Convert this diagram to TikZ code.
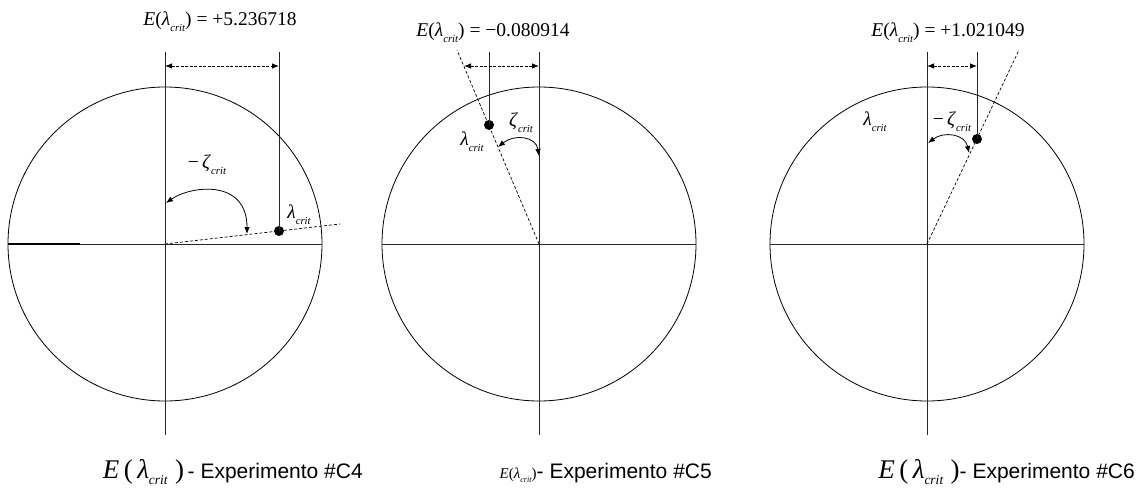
\documentclass[tikz,border=0pt]{standalone}
\usepackage{fontspec}
\usepackage{graphicx}
\setmainfont{Liberation Serif}
\newfontfamily\capfont{Liberation Sans}
\usetikzlibrary{arrows.meta}
\newcommand{\crit}{\raisebox{-0.32em}{\scalebox{0.55}{\itshape crit}}}
\newcommand{\Elam}{\textit{E}(\textit{λ}\crit)}
\newcommand{\Ewide}{\textit{E}\,(\,\textit{λ}\raisebox{-0.25em}{\scalebox{0.5}{\itshape crit}}\;)}
\tikzset{
  >={Latex[length=7pt,width=5.5pt]},
  rim/.style={draw=black,line width=0.8pt},
  axis/.style={draw=black!85,line width=0.7pt},
  ray/.style={draw=black,line width=0.7pt,dash pattern=on 3pt off 2pt},
  dimline/.style={<->,draw=black,line width=0.8pt,dash pattern=on 3pt off 1.5pt},
  swing/.style={<->,draw=black,line width=0.8pt},
  dotmark/.style={circle,fill=black,inner sep=0pt,minimum size=10pt},
  lab/.style={inner sep=0pt,font=\fontsize{19.5}{22}\selectfont},
  legend/.style={inner sep=0pt,anchor=base east,font=\capfont\fontsize{21}{24}\selectfont},
}
\begin{document}
\begin{tikzpicture}[x=1pt,y=-1pt]
  \useasboundingbox (0,0) rectangle (1147,489);
  % circles and axes
  \foreach \cx/\n in {165/1,539/2,927/3}{
    \coordinate (o\n) at (\cx,244);
    \draw[rim] (o\n) circle[radius=157];
    \draw[axis] (\cx-157,244) -- (\cx+157,244);
    \draw[axis] (\cx,52) -- (\cx,435);
  }
  \draw[line width=2pt] (8,244) -- (80,244);
  % experiment C4
  \node[dotmark] (p1) at (279,231) {};
  \coordinate (e1) at (340,224);
  \draw[ray] (o1) -- (e1);
  \draw[axis] (p1.center) -- (279,52);
  \draw[dimline] (165,66) -- (279,66);
  \node[lab] (v1) at (220,22) {\Elam{} = +5.236718};
  \node[lab] (z1) at (207,165) {−\,\textit{ζ}\crit};
  \node[lab] (l1) at (299,215) {\textit{λ}\crit};
  \draw[swing] (166,203) .. controls (190,186) and (247,178) .. (247,234);
  % experiment C5
  \node[dotmark] (p2) at (489,125) {};
  \coordinate (e2) at (457,50);
  \draw[ray] (o2) -- (e2);
  \draw[axis] (p2.center) -- (489,52);
  \draw[dimline] (464,66) -- (539,66);
  \node[lab] (v2) at (493,33) {\Elam{} = −0.080914};
  \node[lab] (z2) at (521,123) {\textit{ζ}\crit};
  \node[lab] (l2) at (472,142) {\textit{λ}\crit};
  \draw[swing] (498,147) .. controls (514,134) and (536,136) .. (539,156);
  % experiment C6
  \node[dotmark] (p3) at (977,139) {};
  \coordinate (e3) at (1019,50);
  \draw[ray] (o3) -- (e3);
  \draw[axis] (p3.center) -- (977,52);
  \draw[dimline] (927,66) -- (977,66);
  \node[lab] (v3) at (948,33) {\Elam{} = +1.021049};
  \node[lab] (z3) at (952,122) {−\,\textit{ζ}\crit};
  \node[lab] (l3) at (875,122) {\textit{λ}\crit};
  \draw[swing] (928,143) .. controls (944,131) and (965,134) .. (969,153);
  % captions
  \node[legend] (c1) at (363,478) {{\rmfamily\fontsize{27}{30}\selectfont\Ewide}\,- Experimento \#C4};
  \node[legend] (c2) at (712,478) {{\rmfamily\fontsize{15}{17}\selectfont\Elam}- Experimento \#C5};
  \node[legend] (c3) at (1135,478) {{\rmfamily\fontsize{27}{30}\selectfont\Ewide}- Experimento \#C6};
\end{tikzpicture}
\end{document}
